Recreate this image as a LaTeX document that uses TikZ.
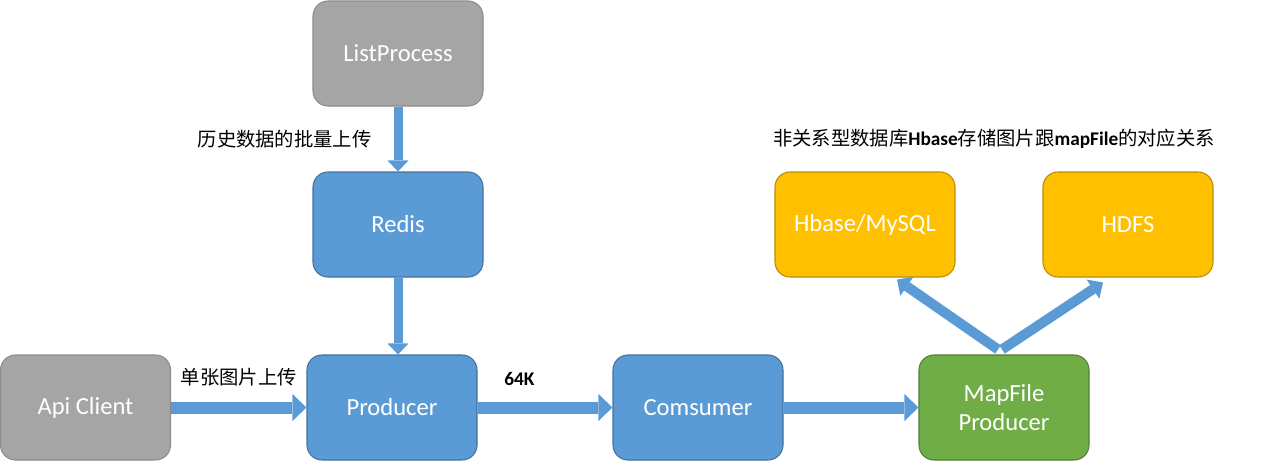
\documentclass[tikz,border=0pt]{standalone}
\usepackage{fontspec}
\setmainfont{Carlito}
\newfontfamily\cjk{Noto Sans CJK SC}
\usetikzlibrary{arrows.meta}

\definecolor{boxgray}{HTML}{A5A5A5}
\definecolor{boxgrayedge}{HTML}{8C8C8C}
\definecolor{boxblue}{HTML}{5B9BD5}
\definecolor{boxblueedge}{HTML}{41719C}
\definecolor{boxgreen}{HTML}{70AD47}
\definecolor{boxgreenedge}{HTML}{507E32}
\definecolor{boxgold}{HTML}{FFC000}
\definecolor{boxgoldedge}{HTML}{BC8C00}

\begin{document}
\begin{tikzpicture}[
		block/.style={rounded corners=0.3cm, minimum width=3.4cm, minimum height=2.1cm,
			line width=0.6pt, text=white, align=center, font=\fontsize{14}{16}\selectfont},
		grayblock/.style={block, fill=boxgray, draw=boxgrayedge},
		blueblock/.style={block, fill=boxblue, draw=boxblueedge},
		greenblock/.style={block, fill=boxgreen, draw=boxgreenedge},
		goldblock/.style={block, fill=boxgold, draw=boxgoldedge},
		tag/.style={text=black, font=\fontsize{11}{13}\selectfont\cjk},
		flow/.style={draw=boxblue, line width=0.24cm, -{Triangle[length=0.28cm, width=0.54cm, line width=0pt]}},
		vflow/.style={draw=boxblue, line width=0.18cm, -{Triangle[length=0.22cm, width=0.42cm, line width=0pt]}},
		dflow/.style={draw=boxblue, line width=0.2cm, -{Triangle[length=0.24cm, width=0.46cm, line width=0pt]}},
	]
		\useasboundingbox (0,0) rectangle (25.46,-9.24);

		% boxes
		\node[grayblock] (lp) at (7.96,-1.07) {ListProcess};
		\node[blueblock] (redis) at (7.96,-4.49) {Redis};
		\node[grayblock] (api) at (1.71,-8.15) {Api Client};
		\node[blueblock] (prod) at (7.84,-8.15) {Producer};
		\node[blueblock] (cons) at (13.96,-8.15) {Comsumer};
		\node[greenblock] (mfp) at (20.08,-8.15) {MapFile\\Producer};
		\node[goldblock, minimum width=3.6cm] (hbase) at (17.3,-4.49) {Hbase/MySQL};
		\node[goldblock] (hdfs) at (22.56,-4.49) {HDFS};

		\node[tag] (note) at (19.88,-2.78)
			{非关系型数据库{\fontspec{Carlito}\bfseries Hbase}存储图片跟{\fontspec{Carlito}\bfseries mapFile}的对应关系};

		% connectors
		\draw[vflow] (lp) -- (redis) node[midway, left, xshift=-0.32cm, tag] {历史数据的批量上传};
		\draw[vflow] (redis.south) -- (redis.south |- prod.north);
		\draw[flow] (api) -- (prod) node[midway, above=0.2cm, tag] {单张图片上传};
		\draw[flow] (prod) -- (cons) node[pos=0.31, above=0.2cm, tag, font=\fontsize{11}{13}\selectfont\bfseries] {64K};
		\draw[flow] (cons) -- (mfp);
		\draw[dflow] ([xshift=-0.12cm, yshift=0.1cm]mfp.north) -- ([xshift=0.64cm, yshift=-0.04cm]hbase.south);
		\draw[dflow] ([xshift=-0.04cm, yshift=0.1cm]mfp.north) -- ([xshift=-0.5cm, yshift=-0.1cm]hdfs.south);
	\end{tikzpicture}
\end{document}
